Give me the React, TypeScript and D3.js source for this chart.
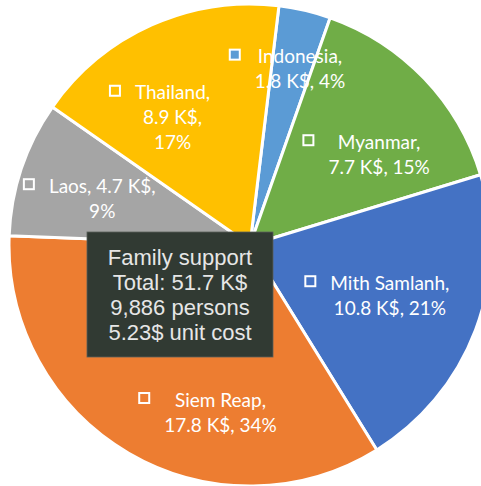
import React, { useEffect, useRef } from 'react'
import * as d3 from 'd3'

const names = ['Indonesia', 'Myanmar', 'Mith Samlanh', 'Siem Reap', 'Laos', 'Thailand']
const values = [1.8, 7.7, 10.8, 17.8, 4.7, 8.9]
const percents = [4, 15, 21, 34, 9, 17]
const colors = ['#5B9BD5', '#70AD47', '#4472C4', '#ED7D31', '#A5A5A5', '#FFC000']
// which label pieces (name, value, pct) go on each line
const wraps = [[[0], [1, 2]], [[0], [1, 2]], [[0], [1, 2]], [[0], [1, 2]], [[0, 1], [2]], [[0], [1], [2]]]
// nudge of each label away from the arc centroid
const labelNudge = [[14, -23], [15, 18], [-8, -6], [50, 30], [2, 3], [-13, 16]]
const boxLines = ['Family support', 'Total: 51.7 K$', '9,886 persons', '5.23$ unit cost']

const W = 481
const H = 486
const cx = 250
const cy = 245
const radius = 241
const start = 6.9 * Math.PI / 180

function App() {
    const ref = useRef<SVGSVGElement>(null)

    useEffect(() => {
        const svg = d3.select(ref.current)
        svg.selectAll('*').remove()
        const g = svg.append('g').attr('transform', `translate(${cx},${cy})`)

        const pie = d3.pie<number>().sort(null).value(d => d)
            .startAngle(start).endAngle(start + 2 * Math.PI)
        const arcs = pie(values)
        const arc = d3.arc<d3.PieArcDatum<number>>().innerRadius(0).outerRadius(radius)
        const labelArc = d3.arc<d3.PieArcDatum<number>>().innerRadius(158).outerRadius(158)

        g.selectAll('path.slice').data(arcs).join('path')
            .attr('class', 'slice')
            .attr('d', arc)
            .attr('fill', (d, i) => colors[i])
            .attr('stroke', '#fff')
            .attr('stroke-width', 3)
            .attr('stroke-linejoin', 'round')

        const pitch = 25
        arcs.forEach((a, i) => {
            const c = labelArc.centroid(a)
            const x = c[0] + labelNudge[i][0]
            const y = c[1] + labelNudge[i][1]
            const pieces = [names[i] + ',', values[i].toFixed(1) + ' K$,', percents[i] + '%']
            const lines = wraps[i].map(p => p.map(k => pieces[k]).join(' '))
            const lg = g.append('g')
            const texts = lg.selectAll('text').data(lines).join('text')
                .attr('x', x)
                .attr('y', (d, j) => y + (j - (lines.length - 1) / 2) * pitch)
                .attr('text-anchor', 'middle')
                .attr('dominant-baseline', 'central')
                .attr('fill', '#fff')
                .style('font-family', 'Lato, sans-serif')
                .style('font-size', '19px')
                .text(d => d)
            let maxW = 0
            texts.each(function () {
                maxW = Math.max(maxW, (this as SVGTextElement).getComputedTextLength())
            })
            const firstY = y - (lines.length - 1) / 2 * pitch
            lg.append('rect')
                .attr('x', x - maxW / 2 - 15 - 10)
                .attr('y', firstY - 6)
                .attr('width', 10)
                .attr('height', 10)
                .attr('fill', colors[i])
                .attr('stroke', '#fff')
                .attr('stroke-width', 2)
        })

        // total box over the middle
        const bx = -70
        const by = 49.5
        g.append('rect')
            .attr('x', bx - 93).attr('y', by - 62.5)
            .attr('width', 186).attr('height', 125)
            .attr('fill', '#313A33')
            .attr('stroke', '#5a605b')
            .attr('stroke-width', 0.8)
        g.selectAll('text.box').data(boxLines).join('text')
            .attr('class', 'box')
            .attr('x', bx)
            .attr('y', (d, i) => by + (i - 1.5) * 25)
            .attr('text-anchor', 'middle')
            .attr('dominant-baseline', 'central')
            .attr('fill', '#E6E6E6')
            .style('font-family', '"Liberation Sans", Arial, sans-serif')
            .style('font-size', '22px')
            .text(d => d)
    }, [])

    return (
        <svg ref={ref} width={W} height={H}
            style={{ position: 'absolute', left: 0, top: 0, background: '#fff' }} />
    )
}

export default App
